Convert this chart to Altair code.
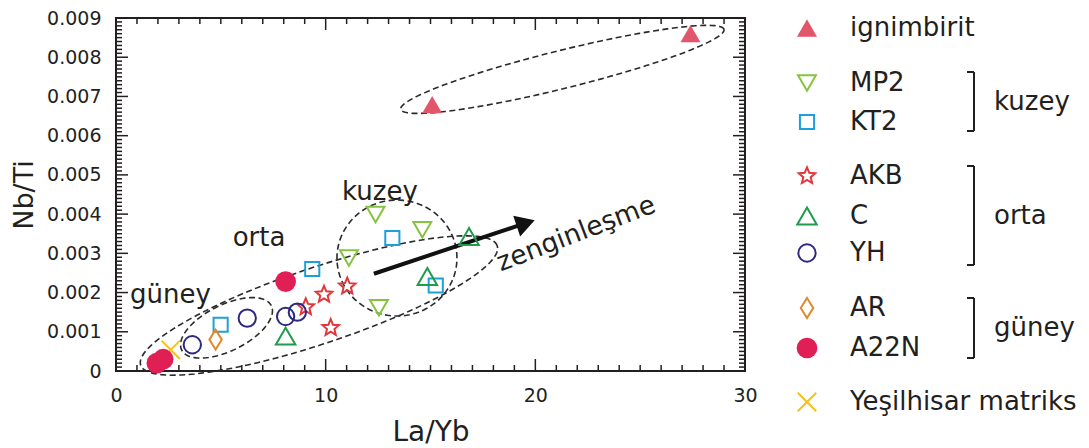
import math
import altair as alt
import pandas as pd

FONT = "DejaVu Sans"
INK = "#231F20"

# ---------------- series ----------------
SERIES = ["ignimbirit", "MP2", "KT2", "AKB", "C", "YH", "AR", "A22N", "Yeşilhisar matriks"]

ign_x = [15.08, 27.40]
ign_y = [0.00679, 0.00860]
mp2_x = [12.38, 11.11, 12.54, 14.61]
mp2_y = [0.00399, 0.00288, 0.00161, 0.00360]
kt2_x = [4.99, 9.36, 13.18, 15.25]
kt2_y = [0.00118, 0.00260, 0.00339, 0.00218]
akb_x = [9.05, 9.92, 11.03, 10.24]
akb_y = [0.00163, 0.00195, 0.00216, 0.00110]
c_x = [8.09, 14.85, 16.84]
c_y = [0.00089, 0.00241, 0.00343]
yh_x = [3.64, 6.26, 8.09, 8.65]
yh_y = [0.00067, 0.00135, 0.00139, 0.00150]
ar_x = [4.75]
ar_y = [0.00080]
a22n_x = [1.95, 2.25, 8.09]
a22n_y = [0.00020, 0.00030, 0.00228]
yes_x = [2.61]
yes_y = [0.00054]

SERIES_X = [ign_x, mp2_x, kt2_x, akb_x, c_x, yh_x, ar_x, a22n_x, yes_x]
SERIES_Y = [ign_y, mp2_y, kt2_y, akb_y, c_y, yh_y, ar_y, a22n_y, yes_y]

# ---------------- styles ----------------
STAR = ("M0,-1L0.265,-0.364L0.951,-0.309L0.428,0.139L0.588,0.809L0,0.45"
        "L-0.588,0.809L-0.428,0.139L-0.951,-0.309L-0.265,-0.364Z")
DIAMOND = "M0,-1L0.62,0L0,1L-0.62,0Z"
XMARK = "M-1,-1L1,1M-1,1L1,-1"
COLORS = ["#E2566C", "#86C440", "#1E9FD9", "#E2363A", "#1F9C4B", "#2C2A80", "#E0892E", "#E01F55", "#F5C11B"]
SHAPES = ["triangle-up", "triangle-down", "square", STAR, "triangle-up", "circle", DIAMOND, "circle", XMARK]
SIZES = [400, 320, 200, 300, 380, 300, 400, 430, 340]
FILLED = [True, False, False, False, False, False, False, True, False]

# axis labels / ticks
X_LABELS = [0, 10, 20, 30]
Y_LABELS = [0, 0.001, 0.002, 0.003, 0.004, 0.005, 0.006, 0.007, 0.008, 0.009]
X_TICKS = list(range(0, 31))
Y_TICKS = [round(i * 0.0001, 4) for i in range(0, 91)]

# dashed ellipses: centre (data units), semi-axes (px), tilt (deg)
ELL_NAME = ["ignimbirit", "kuzey", "orta", "guney"]
ELL_CX = [21.29, 13.40, 9.68, 5.27]
ELL_CY = [0.00769, 0.00288, 0.00167, 0.00110]
ELL_A = [166.5, 60.0, 188.0, 50.0]
ELL_B = [19.0, 58.0, 38.0, 23.0]
ELL_ANG = [13.9, 0.0, 18.5, 26.3]

# arrow
ARROW_X = [12.30]
ARROW_Y = [0.00248]
ARROW_X2 = [19.54]
ARROW_Y2 = [0.00377]

# annotation labels
LBL_TEXT = ["kuzey", "orta", "güney"]
LBL_X = [12.59, 6.82, 2.60]
LBL_Y = [0.00436, 0.00319, 0.00173]
ROT_TEXT = ["zenginleşme"]
ROT_X = [18.35]
ROT_Y = [0.00254]

# legend layout
LEG_Y = [10, 65, 104, 158, 198, 235, 290, 330, 384]
GRP_TEXT = ["kuzey", "orta", "güney"]
GRP_Y1 = [54, 148, 280]
GRP_Y2 = [113, 247, 340]

W, H = 629, 353
PXX = W / 30.0
PXY = H / 0.009

# ---------------- tables ----------------
rows = []
for i, s in enumerate(SERIES):
    for xv, yv in zip(SERIES_X[i], SERIES_Y[i]):
        rows.append(dict(series=s, x=xv, y=yv, color=COLORS[i], shape=SHAPES[i],
                         size=SIZES[i], filled=FILLED[i]))
pts = pd.DataFrame(rows)
pts_open = pts[~pts.filled]
pts_fill = pts[pts.filled]

erows = []
for i, n in enumerate(ELL_NAME):
    th = math.radians(ELL_ANG[i])
    for k in range(0, 121):
        t = 2 * math.pi * k / 120
        u = ELL_A[i] * math.cos(t)
        v = ELL_B[i] * math.sin(t)
        dx = u * math.cos(th) - v * math.sin(th)
        dy = u * math.sin(th) + v * math.cos(th)
        erows.append(dict(ell=n, ord=k, x=ELL_CX[i] + dx / PXX, y=ELL_CY[i] + dy / PXY))
ell = pd.DataFrame(erows)

arrow = pd.DataFrame(dict(x=ARROW_X, y=ARROW_Y, x2=ARROW_X2, y2=ARROW_Y2))
head = pd.DataFrame(dict(x=ARROW_X2, y=ARROW_Y2))
lbl = pd.DataFrame(dict(t=LBL_TEXT, x=LBL_X, y=LBL_Y))
rot = pd.DataFrame(dict(t=ROT_TEXT, x=ROT_X, y=ROT_Y))

XS = alt.Scale(domain=[0, 30], nice=False, zero=False)
YS = alt.Scale(domain=[0, 0.009], nice=False, zero=False)
X_AX = alt.Axis(values=X_LABELS, ticks=False, domain=False, grid=False,
                labelFont=FONT, labelFontSize=19, labelColor=INK, labelPadding=15,
                labelFlush=False, title="La/Yb", titleFont=FONT, titleFontSize=28,
                titleFontWeight="normal", titleColor=INK, titlePadding=13)
Y_AX = alt.Axis(values=Y_LABELS, ticks=False, domain=False, grid=False,
                labelExpr="datum.value == 0 ? '0' : format(datum.value, '.3f')",
                labelFont=FONT, labelFontSize=19, labelColor=INK, labelPadding=15,
                labelFlush=False, title="Nb/Ti", titleFont=FONT, titleFontSize=27,
                titleFontWeight="normal", titleColor=INK, titlePadding=8)


def XE():
    return alt.X("x:Q", scale=XS, axis=X_AX)


def YE():
    return alt.Y("y:Q", scale=YS, axis=Y_AX)


layers = []

# frame
layers.append(alt.Chart(pd.DataFrame({"a": [0]})).mark_rect(
    fillOpacity=0, stroke=INK, strokeWidth=2).encode(
    x=alt.value(0), x2=alt.value(W), y=alt.value(0), y2=alt.value(H)))

# inward ticks on all four sides
xt_minor = pd.DataFrame(dict(x=[v for v in X_TICKS if v % 10 != 0]))
xt_major = pd.DataFrame(dict(x=[v for v in X_TICKS if v % 10 == 0]))
yt_minor = pd.DataFrame(dict(y=[v for i, v in enumerate(Y_TICKS) if i % 10 != 0]))
yt_major = pd.DataFrame(dict(y=[v for i, v in enumerate(Y_TICKS) if i % 10 == 0]))
for df, ln in [(xt_minor, 6), (xt_major, 12)]:
    layers.append(alt.Chart(df).mark_rule(color=INK, strokeWidth=1.5).encode(
        x=XE(), y=alt.value(H), y2=alt.value(H - ln)))
    layers.append(alt.Chart(df).mark_rule(color=INK, strokeWidth=1.5).encode(
        x=XE(), y=alt.value(0), y2=alt.value(ln)))
for df, ln in [(yt_minor, 6), (yt_major, 12)]:
    layers.append(alt.Chart(df).mark_rule(color=INK, strokeWidth=1.5).encode(
        y=YE(), x=alt.value(0), x2=alt.value(ln)))
    layers.append(alt.Chart(df).mark_rule(color=INK, strokeWidth=1.5).encode(
        y=YE(), x=alt.value(W), x2=alt.value(W - ln)))

# ellipses
layers.append(alt.Chart(ell).mark_line(strokeDash=[6, 3.5], strokeWidth=1.6, color="#2a2a2a").encode(
    x=XE(), y=YE(), detail="ell:N", order="ord:Q"))

# arrow
layers.append(alt.Chart(arrow).mark_rule(color="#111", strokeWidth=4).encode(
    x=XE(), y=YE(), x2="x2:Q", y2="y2:Q"))
layers.append(alt.Chart(head).mark_point(shape="triangle-up", filled=True, color="#111",
                                         size=480, angle=71.6, opacity=1).encode(x=XE(), y=YE()))

# points
layers.append(alt.Chart(pts_open).mark_point(filled=False, strokeWidth=2, opacity=1).encode(
    x=XE(), y=YE(),
    color=alt.Color("color:N", scale=None),
    shape=alt.Shape("shape:N", scale=None),
    size=alt.Size("size:Q", scale=None)))
layers.append(alt.Chart(pts_fill).mark_point(filled=True, opacity=1).encode(
    x=XE(), y=YE(),
    color=alt.Color("color:N", scale=None),
    shape=alt.Shape("shape:N", scale=None),
    size=alt.Size("size:Q", scale=None)))

# annotation text
layers.append(alt.Chart(lbl).mark_text(font=FONT, fontSize=26, color=INK, align="center",
                                       baseline="alphabetic").encode(x=XE(), y=YE(), text="t:N"))
layers.append(alt.Chart(rot).mark_text(font=FONT, fontSize=26.5, color=INK, align="left",
                                       baseline="alphabetic", angle=339).encode(x=XE(), y=YE(), text="t:N"))

plot = alt.layer(*layers).properties(width=W, height=H)

# ---------------- legend panel ----------------
LW, LH = 312, H
LXS = alt.Scale(domain=[0, LW], nice=False, zero=False)
LYS = alt.Scale(domain=[0, LH], nice=False, zero=False, reverse=True)
SYM_X, TXT_X, BR_X, BR_X0, GRP_X = 41, 84, 208, 201, 228

leg = pd.DataFrame(dict(series=SERIES, ly=LEG_Y, color=COLORS, shape=SHAPES,
                        size=SIZES, filled=FILLED))
leg["lx"] = SYM_X
leg["tx"] = TXT_X
grp = pd.DataFrame(dict(t=GRP_TEXT, y1=GRP_Y1, y2=GRP_Y2))
grp["ym"] = (grp.y1 + grp.y2) / 2
grp["bx"] = BR_X
grp["bx0"] = BR_X0
grp["gx"] = GRP_X


def LX(f):
    return alt.X(f"{f}:Q", scale=LXS, axis=None)


def LY(f):
    return alt.Y(f"{f}:Q", scale=LYS, axis=None)


leg_layers = [
    alt.Chart(leg[~leg.filled]).mark_point(filled=False, strokeWidth=2, opacity=1).encode(
        x=LX("lx"), y=LY("ly"), color=alt.Color("color:N", scale=None),
        shape=alt.Shape("shape:N", scale=None), size=alt.Size("size:Q", scale=None)),
    alt.Chart(leg[leg.filled]).mark_point(filled=True, opacity=1).encode(
        x=LX("lx"), y=LY("ly"), color=alt.Color("color:N", scale=None),
        shape=alt.Shape("shape:N", scale=None), size=alt.Size("size:Q", scale=None)),
    alt.Chart(leg).mark_text(font=FONT, fontSize=26, color=INK, align="left", baseline="middle").encode(
        x=LX("tx"), y=LY("ly"), text="series:N"),
    alt.Chart(grp).mark_rule(color=INK, strokeWidth=2).encode(x=LX("bx"), y=LY("y1"), y2="y2:Q"),
    alt.Chart(grp).mark_rule(color=INK, strokeWidth=2).encode(x=LX("bx0"), x2="bx:Q", y=LY("y1")),
    alt.Chart(grp).mark_rule(color=INK, strokeWidth=2).encode(x=LX("bx0"), x2="bx:Q", y=LY("y2")),
    alt.Chart(grp).mark_text(font=FONT, fontSize=26, color=INK, align="left", baseline="middle").encode(
        x=LX("gx"), y=LY("ym"), text="t:N"),
]
legend = alt.layer(*leg_layers).properties(width=LW, height=LH)

chart = alt.hconcat(plot, legend, spacing=21, bounds="flush").properties(
    padding={"left": 2, "top": 1, "right": 0, "bottom": 0}
).configure_view(stroke=None)

chart.save("out.html", embed_options={"renderer": "svg", "actions": False})
